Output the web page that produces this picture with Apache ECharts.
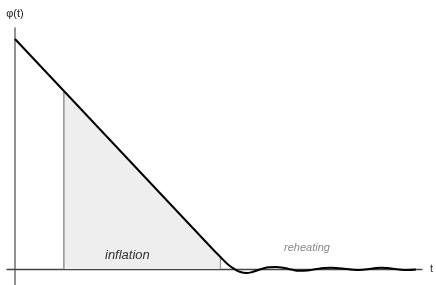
<!DOCTYPE html>
<html><head><meta charset="utf-8">
<script src="https://cdn.jsdelivr.net/npm/echarts@6/dist/echarts.min.js"></script>
<style>html,body{margin:0;padding:0;background:#fff}#c{width:436px;height:285px}</style>
</head><body><div id="c"></div>
<script>
// field curve phi(t): t values and phi values
const tValues   = [0, 100, 200, 206, 213, 220, 226, 232, 238, 247, 255, 262, 270, 277, 285, 293, 301, 310, 317, 325, 333, 342, 351, 359, 367, 377, 385, 393, 402];
const phiValues = [230, 124, 18, 12, 5, 0, -3, -4, -3, 0, 1.8, 2, 1, -0.5, -1.8, -1.5, -0.3, 1, 1.3, 0.8, 0, -1, -0.5, 0.5, 1.3, 0.5, -0.5, -1, -0.5];
// inflation shaded span
const inflationT   = [49, 206];
const inflationPhi = [178, 12];
const labels = { x: 't', y: 'φ(t)', inflation: 'inflation', reheating: 'reheating' };

const chart = echarts.init(document.getElementById('c'));
const font = 'Liberation Sans, Arial, sans-serif';
chart.setOption({
  animation: false,
  grid: { left: 7, right: 13, top: 28, bottom: 0 },
  xAxis: {
    type: 'value', min: -8, max: 408,
    axisLine: { onZero: true, lineStyle: { color: '#444', width: 1.3 } },
    axisTick: { show: false }, axisLabel: { show: false }, splitLine: { show: false },
    name: labels.x, nameLocation: 'end', nameGap: 8,
    nameTextStyle: { color: '#333', fontSize: 11, fontFamily: font }
  },
  yAxis: {
    type: 'value', min: -16, max: 241,
    axisLine: { onZero: true, lineStyle: { color: '#777', width: 1.6 } },
    axisTick: { show: false }, axisLabel: { show: false }, splitLine: { show: false },
    name: labels.y, nameLocation: 'end', nameGap: 9,
    nameTextStyle: { color: '#222', fontSize: 11, fontFamily: font, align: 'center' }
  },
  series: [
    { type: 'line', data: inflationT.map((t, i) => [t, inflationPhi[i]]), symbol: 'none',
      lineStyle: { width: 0 }, areaStyle: { color: '#eeeeee', opacity: 1 }, z: 1 },
    { type: 'line', data: [[inflationT[0], 0], [inflationT[0], inflationPhi[0]]], symbol: 'none',
      lineStyle: { color: '#999', width: 1.6 }, z: 2 },
    { type: 'line', data: [[inflationT[1], 0], [inflationT[1], inflationPhi[1]]], symbol: 'none',
      lineStyle: { color: '#999', width: 1.3 }, z: 2 },
    { type: 'line', data: tValues.map((t, i) => [t, phiValues[i]]), symbol: 'none', smooth: 0.5,
      lineStyle: { color: '#000', width: 2 }, z: 5 }
  ],
  graphic: [
    { type: 'text', z: 100, left: 105, top: 249, style: { text: labels.inflation, font: 'italic 13px ' + font, fill: '#333' } },
    { type: 'text', z: 100, left: 284, top: 242, style: { text: labels.reheating, font: 'italic 11px ' + font, fill: '#888' } }
  ]
});
</script></body></html>
